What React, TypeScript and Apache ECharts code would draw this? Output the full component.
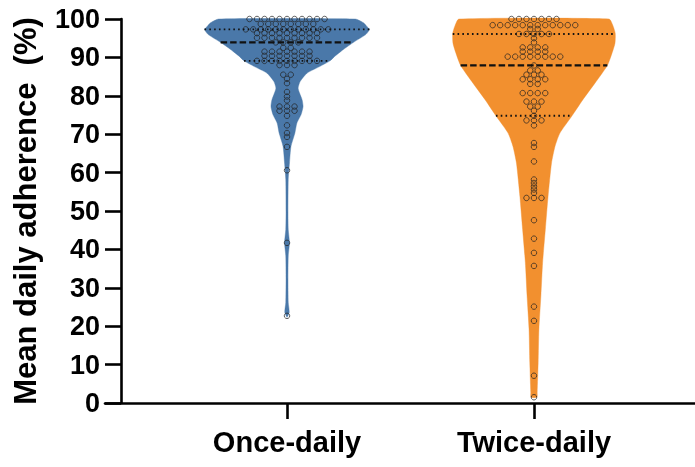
import React, { useEffect, useRef } from "react";
import * as echarts from "echarts";

const categories = ["Once-daily", "Twice-daily"];
const violinColors = ["#4A78A9", "#F2902F"];
const yTickValues = [0, 10, 20, 30, 40, 50, 60, 70, 80, 90, 100];

// Individual patient values (%), grouped in rows: value + number of patients
const onceRowValues = [100, 98.7, 97.3, 96.3, 95.1, 93.9, 92.5, 91.5, 90.4, 89.1, 88, 85.5, 84.4, 83.3, 81, 79.8, 78.8, 77.2, 76.1, 74.8, 72.3, 70.3, 69.3, 66.7, 60.6, 41.7, 22.7];
const onceRowCounts = [11, 8, 12, 9, 9, 4, 2, 7, 7, 9, 3, 2, 1, 1, 1, 1, 1, 3, 3, 1, 1, 1, 1, 1, 1, 1, 1];

const twiceRowValues = [100, 98.4, 97.4, 96.1, 95, 93.9, 92.6, 91.5, 90.2, 87.9, 86.6, 85.5, 84.3, 83.1, 80.7, 78.5, 77.2, 76.1, 74.8, 73.6, 72.3, 67.7, 66.7, 62.9, 58.2, 57.3, 56.4, 55.6, 54.7, 53.4, 47.6, 42.8, 39.1, 35.7, 25.1, 21.4, 7.1, 1.5];
const twiceRowCounts = [7, 12, 2, 5, 1, 1, 4, 4, 8, 1, 2, 3, 4, 2, 4, 3, 2, 1, 1, 3, 1, 1, 1, 1, 1, 1, 1, 1, 1, 3, 1, 1, 1, 1, 1, 1, 1, 1];

// [lower quartile, median, upper quartile]
const onceQuartiles = [89.1, 93.9, 97.3];
const twiceQuartiles = [74.8, 87.9, 96.1];

// Violin outline: levels (%) and half-widths (category units)
const onceOutlineLevels = [22.3, 23.6, 26.2, 32.2, 38.3, 41.7, 45.2, 49.6, 58.2, 62.5, 66.8, 70.3, 72.9, 75.1, 77.2, 79.0, 80.7, 82.0, 83.7, 85.9, 87.6, 89.1, 90.2, 92.0, 94.0, 96.0, 97.3, 98.0, 99.0, 100];
const onceOutlineHalfWidths = [0, 0.009, 0.005, 0.004, 0.005, 0.010, 0.005, 0.004, 0.005, 0.010, 0.016, 0.032, 0.040, 0.057, 0.065, 0.061, 0.051, 0.045, 0.053, 0.081, 0.132, 0.174, 0.192, 0.227, 0.271, 0.320, 0.334, 0.324, 0.310, 0.277];

const twiceOutlineLevels = [1.5, 2.8, 10.6, 19.2, 27.9, 36.6, 45.2, 53.8, 62.5, 66.8, 70.3, 74.6, 79.0, 83.3, 87.9, 91.1, 93.7, 96.3, 98.4, 100];
const twiceOutlineHalfWidths = [0.012, 0.013, 0.017, 0.020, 0.028, 0.035, 0.046, 0.057, 0.071, 0.085, 0.105, 0.152, 0.198, 0.247, 0.297, 0.316, 0.328, 0.329, 0.319, 0.304];

const FONT = "'Liberation Sans', Arial, Helvetica, sans-serif";
const DOT_SPACING = 0.0304;

function interp(levels: number[], hws: number[], v: number) {
  for (let i = 0; i < levels.length - 1; i++) {
    if (v >= levels[i] && v <= levels[i + 1]) {
      const t = (v - levels[i]) / (levels[i + 1] - levels[i]);
      return hws[i] + t * (hws[i + 1] - hws[i]);
    }
  }
  return 0;
}

function beeswarm(values: number[], counts: number[], center: number) {
  const pts: number[][] = [];
  values.forEach((v, r) => {
    const n = counts[r];
    for (let k = 0; k < n; k++) pts.push([center + (k - (n - 1) / 2) * DOT_SPACING, v]);
  });
  return pts;
}

export default function App() {
  const ref = useRef<HTMLDivElement>(null);
  useEffect(() => {
    const chart = echarts.init(ref.current!, null, { renderer: "svg" });
    const groups = [
      { levels: onceOutlineLevels, hws: onceOutlineHalfWidths, q: onceQuartiles, color: violinColors[0] },
      { levels: twiceOutlineLevels, hws: twiceOutlineHalfWidths, q: twiceQuartiles, color: violinColors[1] },
    ];
    const points = beeswarm(onceRowValues, onceRowCounts, 0).concat(beeswarm(twiceRowValues, twiceRowCounts, 1));

    chart.setOption({
      animation: false,
      grid: { left: 105, right: 0, top: 19, bottom: 64, containLabel: false, outerBoundsMode: "none" },
      xAxis: {
        type: "value",
        min: -0.737,
        max: 1.652,
        splitLine: { show: false },
        axisLine: { show: true, onZero: false, lineStyle: { color: "#000", width: 2.6 } },
        axisTick: { show: true, customValues: [0, 1], length: 16, lineStyle: { color: "#000", width: 2.6 } },
        axisLabel: {
          customValues: [0, 1],
          formatter: (v: number) => categories[Math.round(v)] ?? "",
          fontSize: 29,
          fontWeight: "bold",
          color: "#000",
          fontFamily: FONT,
          margin: 24,
        },
      },
      yAxis: {
        type: "value",
        min: 0,
        max: 100,
        interval: 10,
        offset: -16,
        splitLine: { show: false },
        axisLine: { show: true, onZero: false, lineStyle: { color: "#000", width: 2.6 } },
        axisTick: { show: true, length: 16, lineStyle: { color: "#000", width: 2.6 } },
        axisLabel: {
          fontSize: 27,
          fontWeight: "bold",
          color: "#000",
          fontFamily: FONT,
          margin: 21,
          formatter: (v: number) => (yTickValues.includes(v) ? String(v) : ""),
        },
        name: "Mean daily adherence  (%)",
        nameLocation: "middle",
        nameGap: 80,
        nameTextStyle: { fontSize: 31, fontWeight: "bold", color: "#000", fontFamily: FONT },
      },
      series: [
        {
          type: "custom",
          z: 1,
          data: [[0, 50], [1, 50]],
          renderItem: (params: any, api: any) => {
            const g = groups[params.dataIndex];
            const c = params.dataIndex;
            const left = g.levels.map((v, k) => api.coord([c - g.hws[k], v]));
            const right = g.levels.map((v, k) => api.coord([c + g.hws[k], v])).reverse();
            return {
              type: "polygon",
              shape: { points: left.concat(right), smooth: 0.2 },
              style: { fill: g.color, stroke: g.color, lineWidth: 0.4 },
            };
          },
        },
        {
          type: "scatter",
          z: 3,
          data: points,
          symbol: "circle",
          symbolSize: 5.5,
          itemStyle: { color: "rgba(0,0,0,0)", borderColor: "#222", borderWidth: 0.9 },
        },
        {
          type: "custom",
          z: 4,
          data: [[0, 50], [1, 50]],
          renderItem: (params: any, api: any) => {
            const g = groups[params.dataIndex];
            const c = params.dataIndex;
            const children = g.q.map((qv, k) => {
              const hw = interp(g.levels, g.hws, qv);
              const p1 = api.coord([c - hw, qv]);
              const p2 = api.coord([c + hw, qv]);
              const isMedian = k === 1;
              return {
                type: "line",
                shape: { x1: p1[0], y1: p1[1], x2: p2[0], y2: p2[1] },
                style: isMedian
                  ? { stroke: "#111", lineWidth: 2.3, lineDash: [6.5, 3] }
                  : { stroke: "#111", lineWidth: 1.8, lineDash: [1.6, 3.2] },
              };
            });
            return { type: "group", children };
          },
        },
      ],
    });
    return () => chart.dispose();
  }, []);
  return <div ref={ref} style={{ position: "fixed", left: 0, top: 0, width: 695, height: 467 }} />;
}
